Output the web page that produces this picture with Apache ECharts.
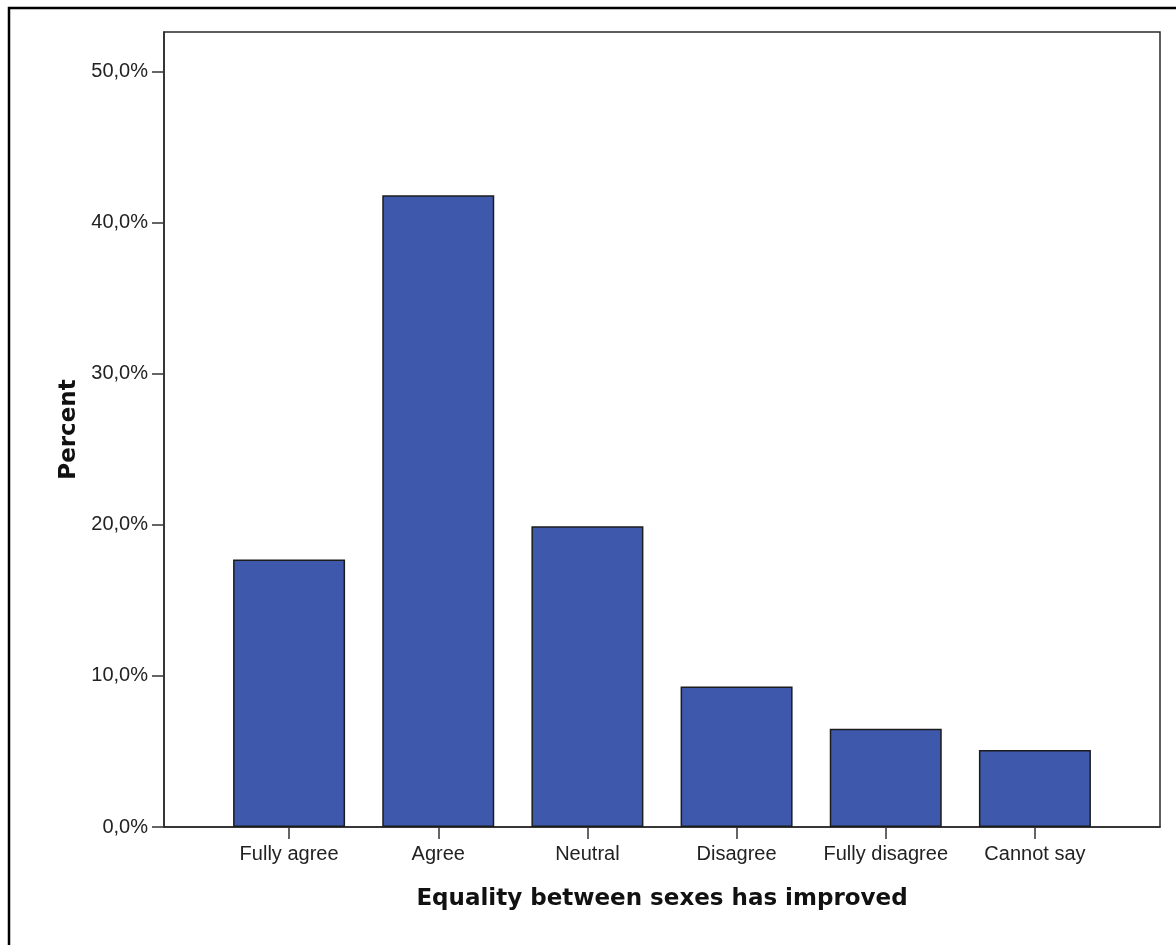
<!DOCTYPE html>
<html>
<head>
<meta charset="utf-8">
<script src="https://cdn.jsdelivr.net/npm/echarts@6/dist/echarts.min.js"></script>
<style>
html,body{margin:0;padding:0;background:#fff;}
#chart{width:1176px;height:945px;}
</style>
</head>
<body>
<div id="chart"></div>
<script>
const categories = ['Fully agree', 'Agree', 'Neutral', 'Disagree', 'Fully disagree', 'Cannot say'];
const percentValues = [17.7, 41.8, 19.9, 9.3, 6.5, 5.1];
const yTickValues = [0, 10, 20, 30, 40, 50];
const yMax = 52.6;

const fmt = v => v.toFixed(1).replace('.', ',') + '%';
const tickFont = 'Liberation Sans, Arial, sans-serif';
const titleFont = 'DejaVu Sans, Verdana, sans-serif';

const chart = echarts.init(document.getElementById('chart'), null, {renderer: 'canvas'});
chart.setOption({
  animation: false,
  backgroundColor: '#fff',
  graphic: [{
    type: 'rect',
    shape: {x: 9, y: 8, width: 1400, height: 1200},
    style: {fill: 'none', stroke: '#000', lineWidth: 2.5},
    silent: true
  }],
  grid: [
    {left: 164, right: 16, top: 32, bottom: 118, show: true, borderColor: '#2a2a2a', borderWidth: 1.5, backgroundColor: 'transparent'},
    {left: 214.5, right: 66.5, top: 32, bottom: 118}
  ],
  xAxis: [
    {
      gridIndex: 0, type: 'value', min: 0, max: 1,
      axisLine: {show: true, lineStyle: {color: '#2a2a2a', width: 1.5}},
      axisTick: {show: false}, axisLabel: {show: false}, splitLine: {show: false},
      name: 'Equality between sexes has improved',
      nameLocation: 'middle', nameGap: 61,
      nameTextStyle: {fontFamily: titleFont, fontWeight: 'bold', fontSize: 23, color: '#111'}
    },
    {
      gridIndex: 1, type: 'category', data: categories,
      axisLine: {show: false},
      axisTick: {show: true, interval: 0, alignWithLabel: true, length: 12, lineStyle: {color: '#333', width: 1.5}},
      axisLabel: {interval: 0, margin: 17, fontFamily: tickFont, fontSize: 20, color: '#222'},
      splitLine: {show: false}
    }
  ],
  yAxis: [
    {
      gridIndex: 0, type: 'value', min: 0, max: yMax,
      axisLine: {show: true, lineStyle: {color: '#2a2a2a', width: 1.5}},
      axisTick: {show: true, length: 12, customValues: yTickValues, lineStyle: {color: '#333', width: 1.5}},
      axisLabel: {customValues: yTickValues, formatter: fmt, margin: 16, padding: [7, 0, 0, 0], fontFamily: tickFont, fontSize: 20, color: '#222'},
      splitLine: {show: false},
      name: 'Percent', nameLocation: 'middle', nameRotate: 90, nameGap: 78,
      nameTextStyle: {fontFamily: titleFont, fontWeight: 'bold', fontSize: 23, color: '#111'}
    },
    {
      gridIndex: 1, type: 'value', min: 0, max: yMax, show: false,
      splitLine: {show: false}
    }
  ],
  series: [{
    type: 'bar',
    xAxisIndex: 1, yAxisIndex: 1,
    data: percentValues,
    barWidth: 112,
    itemStyle: {color: '#3e58ac', borderColor: '#1c1c1c', borderWidth: 1.5}
  }]
});
</script>
</body>
</html>
